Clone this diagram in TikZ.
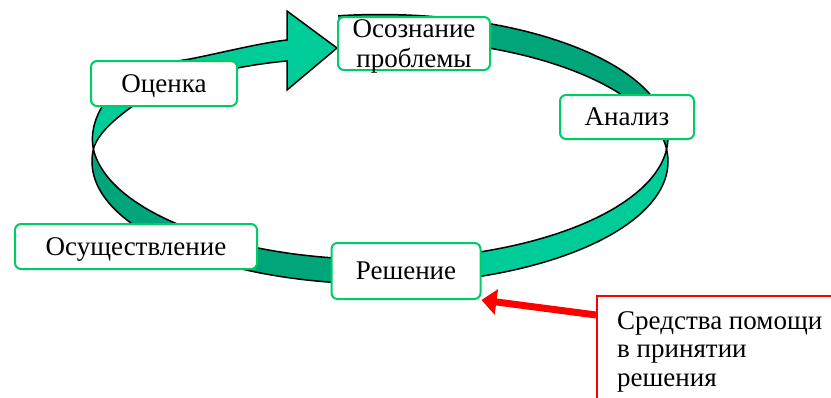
\documentclass[tikz,border=0pt]{standalone}
\usepackage{fontspec}
\setmainfont{Liberation Serif}
\usetikzlibrary{arrows.meta}

\definecolor{ribbonlight}{RGB}{0,204,153}
\definecolor{ribbondark}{RGB}{0,166,122}
\definecolor{boxgreen}{RGB}{0,204,102}

\tikzset{
  stagebox/.style={draw=boxgreen, line width=2pt, rounded corners=6pt, fill=white,
    inner sep=0pt, text depth=0pt, align=center, font=\fontsize{27}{30}\selectfont},
  ribbonedge/.style={draw=black, line width=1.5pt, even odd rule},
  helparrow/.style={draw=red, line width=7pt, -{Triangle[length=15pt,width=25pt]}}
}

\begin{document}
\begin{tikzpicture}[x=1pt,y=-1pt]
    \useasboundingbox (0,0) rectangle (831,397);

    % back of the ring, top right
    \begin{scope}
        \clip (338,0) rectangle (700,149.25);
        \filldraw[ribbonedge, fill=ribbondark] (380,137) ellipse [x radius=288, y radius=122.5]
            (380,161.5) ellipse [x radius=288, y radius=122.5];
    \end{scope}

    % front of the ring, bottom right
    \begin{scope}
        \clip (406,149.25) rectangle (700,300);
        \filldraw[ribbonedge, fill=ribbonlight] (380,137) ellipse [x radius=288, y radius=122.5]
            (380,161.5) ellipse [x radius=288, y radius=122.5];
    \end{scope}

    % bottom left
    \begin{scope}
        \clip (80,149.25) rectangle (406,300);
        \filldraw[ribbonedge, fill=ribbondark] (380,137) ellipse [x radius=288, y radius=122.5]
            (380,161.5) ellipse [x radius=288, y radius=122.5];
    \end{scope}

    % big arrow, top left
    \filldraw[ribbonedge, fill=ribbonlight] (93.4,149.2)
        .. controls (90,132) and (96,116) .. (103,105)
        .. controls (125,75) and (160,63) .. (190,59)
        .. controls (225,52) and (260,43) .. (287,40)
        -- (287,11) -- (337,48) -- (287,90) -- (287,61)
        .. controls (230,66) and (170,82) .. (133,106)
        .. controls (113,120) and (97,135) .. (93.4,149.2) -- cycle;

    % stages
    \node[stagebox, minimum width=146pt, minimum height=45pt] (ocenka) at (164,83.5) {Оценка};
    \node[stagebox, minimum width=152pt, minimum height=53pt] (osoznanie) at (414,43.5) {Осознание\\проблемы};
    \node[stagebox, minimum width=134pt, minimum height=44pt] (analiz) at (627,117) {Анализ};
    \node[stagebox, minimum width=242pt, minimum height=45pt] (osush) at (136,246.5) {Осуществление};
    \node[stagebox, minimum width=149pt, minimum height=56pt] (reshenie) at (406,271) {Решение};

    % decision support
    \node[draw=red, line width=2pt, anchor=north west, minimum width=250pt,
        minimum height=120pt, inner sep=0pt] (helpbox) at (596,295) {};
    \node[anchor=north west, align=left, inner sep=0pt, font=\fontsize{27}{28.5}\selectfont]
        (helptext) at ([xshift=21pt,yshift=-16pt]helpbox.north west)
        {Средства помощи\\в принятии\\решения};
    \draw[helparrow] ([yshift=-20pt]helpbox.north west) -- (reshenie.south east);
\end{tikzpicture}
\end{document}
